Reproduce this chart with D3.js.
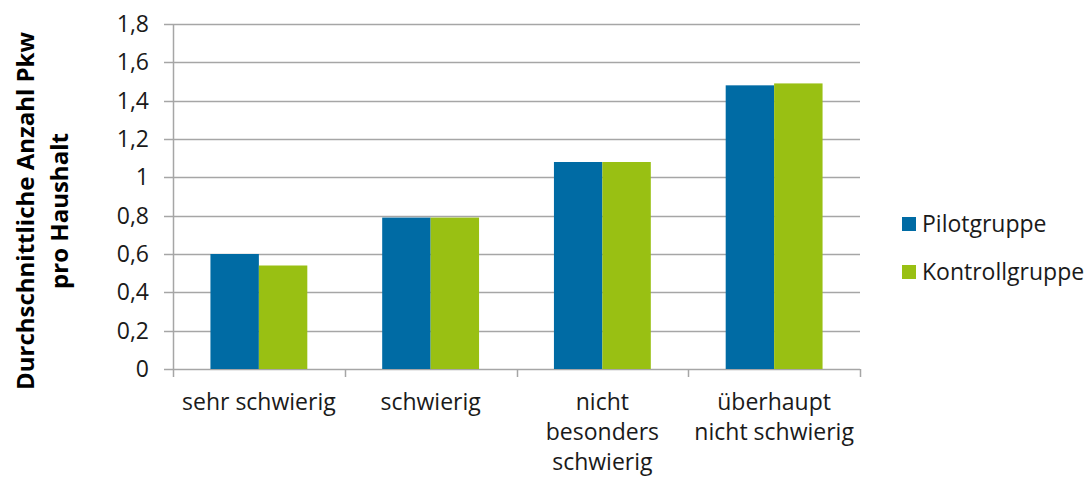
<!DOCTYPE html>
<html>
<head>
<meta charset="utf-8">
<script src="https://cdn.jsdelivr.net/npm/d3@7"></script>
<style>
  html, body { margin: 0; padding: 0; background: #fff; }
  svg { display: block; font-family: "Open Sans", Lato, sans-serif; }
</style>
</head>
<body>
<svg id="chart" width="1087" height="482"></svg>
<script>
// Average number of cars per household by perceived difficulty
const categories = [
  ["sehr schwierig"],
  ["schwierig"],
  ["nicht", "besonders", "schwierig"],
  ["überhaupt", "nicht schwierig"]
];
const seriesNames = ["Pilotgruppe", "Kontrollgruppe"];
const pilotValues = [0.60, 0.79, 1.08, 1.48];
const kontrollValues = [0.54, 0.79, 1.08, 1.49];
const yTicks = [0, 0.2, 0.4, 0.6, 0.8, 1, 1.2, 1.4, 1.6, 1.8];
const colors = ["#006BA4", "#99C013"];

const svg = d3.select("#chart");
const margin = { left: 173, right: 227, top: 24, bottom: 113 };
const W = 1087, H = 482;

const x = d3.scaleBand()
  .domain(d3.range(categories.length))
  .range([margin.left, W - margin.right])
  .paddingInner(0.436)
  .paddingOuter(0.218);
// band with no padding for the category tick positions
const xCat = d3.scaleBand()
  .domain(d3.range(categories.length))
  .range([margin.left, W - margin.right]);
const xSub = d3.scaleBand().domain([0, 1]).range([0, x.bandwidth()]);
const y = d3.scaleLinear().domain([0, 1.8]).range([H - margin.bottom, margin.top]);

const gridColor = "#A6A6A6";
const textColor = "#1a1a1a";
const fontSize = 23;

// horizontal grid lines (extending left as ticks)
svg.append("g")
  .selectAll("line")
  .data(yTicks)
  .join("line")
  .attr("x1", margin.left - 9)
  .attr("x2", W - margin.right)
  .attr("y1", d => Math.round(y(d)) + 0.5)
  .attr("y2", d => Math.round(y(d)) + 0.5)
  .attr("stroke", gridColor)
  .attr("stroke-width", 1.5);

// y tick labels
svg.append("g")
  .selectAll("text")
  .data(yTicks)
  .join("text")
  .attr("x", 149)
  .attr("y", d => y(d))
  .attr("dy", "0.35em")
  .attr("text-anchor", "end")
  .attr("font-size", fontSize)
  .attr("fill", textColor)
  .text(d => d3.format(".1f")(d).replace(/\.0$/, "").replace(".", ","));

// vertical axis line
svg.append("line")
  .attr("x1", margin.left + 0.5).attr("x2", margin.left + 0.5)
  .attr("y1", y(1.8)).attr("y2", y(0))
  .attr("stroke", gridColor).attr("stroke-width", 1.5);

// bars
const groups = svg.append("g")
  .selectAll("g")
  .data(categories.map((c, i) => [pilotValues[i], kontrollValues[i]]))
  .join("g")
  .attr("transform", (d, i) => `translate(${x(i)},0)`);
groups.selectAll("rect")
  .data(d => d)
  .join("rect")
  .attr("x", (d, j) => xSub(j))
  .attr("width", xSub.bandwidth())
  .attr("y", d => y(d))
  .attr("height", d => y(0) - y(d))
  .attr("fill", (d, j) => colors[j]);

// x category ticks
const tickPos = d3.range(categories.length + 1).map(i =>
  i < categories.length ? xCat(i) : xCat(categories.length - 1) + xCat.bandwidth());
svg.append("g")
  .selectAll("line")
  .data(tickPos)
  .join("line")
  .attr("x1", d => Math.round(d) + 0.5).attr("x2", d => Math.round(d) + 0.5)
  .attr("y1", y(0)).attr("y2", y(0) + 8)
  .attr("stroke", gridColor).attr("stroke-width", 1.5);

// x category labels
svg.append("g")
  .selectAll("text")
  .data(categories)
  .join("text")
  .attr("x", (d, i) => xCat(i) + xCat.bandwidth() / 2)
  .attr("y", 410)
  .attr("text-anchor", "middle")
  .attr("font-size", fontSize)
  .attr("fill", textColor)
  .each(function(lines) {
    const t = d3.select(this);
    lines.forEach((l, k) => {
      t.append("tspan")
        .attr("x", t.attr("x"))
        .attr("dy", k === 0 ? 0 : 30)
        .text(l);
    });
  });

// y axis title
const title = svg.append("text")
  .attr("transform", "translate(0,211) rotate(-90)")
  .attr("text-anchor", "middle")
  .attr("font-size", 24)
  .attr("font-weight", "bold")
  .attr("fill", "#000");
title.append("tspan").attr("x", 0).attr("y", 34).text("Durchschnittliche Anzahl Pkw");
title.append("tspan").attr("x", 0).attr("y", 68).text("pro Haushalt");

// legend
const legend = svg.append("g")
  .selectAll("g")
  .data(seriesNames)
  .join("g")
  .attr("transform", (d, i) => `translate(902,${224 + i * 48})`);
legend.append("rect")
  .attr("x", 0).attr("y", -7)
  .attr("width", 14).attr("height", 14)
  .attr("fill", (d, i) => colors[i]);
legend.append("text")
  .attr("x", 20).attr("y", 0).attr("dy", "0.35em")
  .attr("font-size", fontSize)
  .attr("fill", textColor)
  .text(d => d);
</script>
</body>
</html>
